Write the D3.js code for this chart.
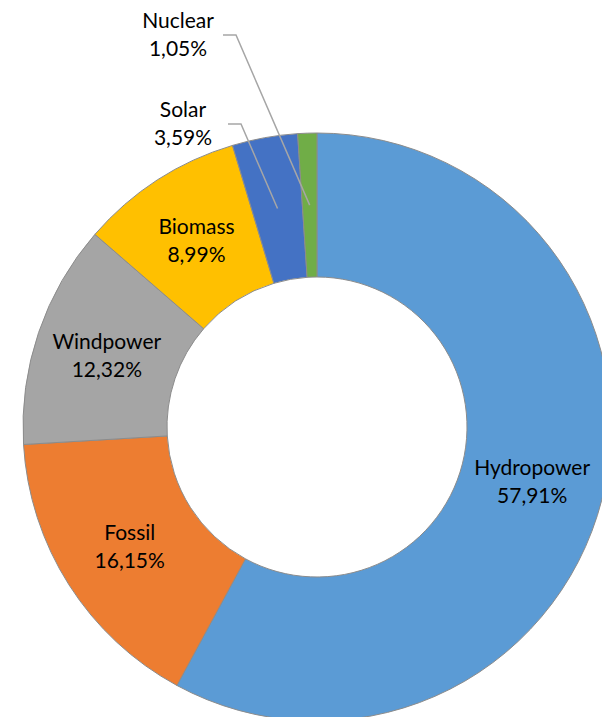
<!DOCTYPE html>
<html>
<head>
<meta charset="utf-8">
<script src="https://cdn.jsdelivr.net/npm/d3@7"></script>
<style>
  html, body { margin: 0; padding: 0; background: #fff; }
  svg { display: block; }
  text { font-family: Lato, "Open Sans", sans-serif; fill: #000; }
</style>
</head>
<body>
<svg id="chart" width="602" height="717"></svg>
<script>
// Electricity generation by source, share in percent
const categories = ["Hydropower", "Fossil", "Windpower", "Biomass", "Solar", "Nuclear"];
const shares = [57.91, 16.15, 12.32, 8.99, 3.59, 1.05];
const shareLabels = ["57,91%", "16,15%", "12,32%", "8,99%", "3,59%", "1,05%"];
const colors = ["#5B9BD5", "#ED7D31", "#A5A5A5", "#FFC000", "#4472C4", "#70AD47"];

const width = 602, height = 717;
const cx = 317, cy = 427;
const outerR = 294, innerR = 150;
const fontSize = 21, lineGap = 28;

const svg = d3.select("#chart");
const g = svg.append("g").attr("transform", `translate(${cx},${cy})`);

const data = categories.map((c, i) => ({ name: c, value: shares[i], label: shareLabels[i], color: colors[i] }));

const pie = d3.pie().value(d => d.value).sort(null);
const arc = d3.arc().innerRadius(innerR).outerRadius(outerR);
const arcs = pie(data);

g.selectAll("path.slice")
  .data(arcs)
  .join("path")
  .attr("class", "slice")
  .attr("d", arc)
  .attr("fill", d => d.data.color)
  .attr("stroke", "#8c8c8c")
  .attr("stroke-width", 1);

// Small slices get their labels outside, joined by a leader line
const outside = {
  Solar:   { x: -134, y: -303 },
  Nuclear: { x: -139, y: -392 }
};

arcs.forEach(d => {
  const [mx, my] = arc.centroid(d);
  const o = outside[d.data.name];
  let lx = mx, ly = my;
  if (o) {
    lx = o.x; ly = o.y;
    const sx = lx + 45, kx = sx + 13;
    g.append("path")
      .attr("d", `M${sx},${ly}L${kx},${ly}L${mx},${my}`)
      .attr("fill", "none")
      .attr("stroke", "#a6a6a6")
      .attr("stroke-width", 1.5);
  }
  const t = g.append("text")
    .attr("text-anchor", "middle")
    .attr("font-size", fontSize);
  t.append("tspan").attr("x", lx).attr("y", ly - lineGap / 2).attr("dy", "0.35em").text(d.data.name);
  t.append("tspan").attr("x", lx).attr("y", ly + lineGap / 2).attr("dy", "0.35em").text(d.data.label);
});
</script>
</body>
</html>
